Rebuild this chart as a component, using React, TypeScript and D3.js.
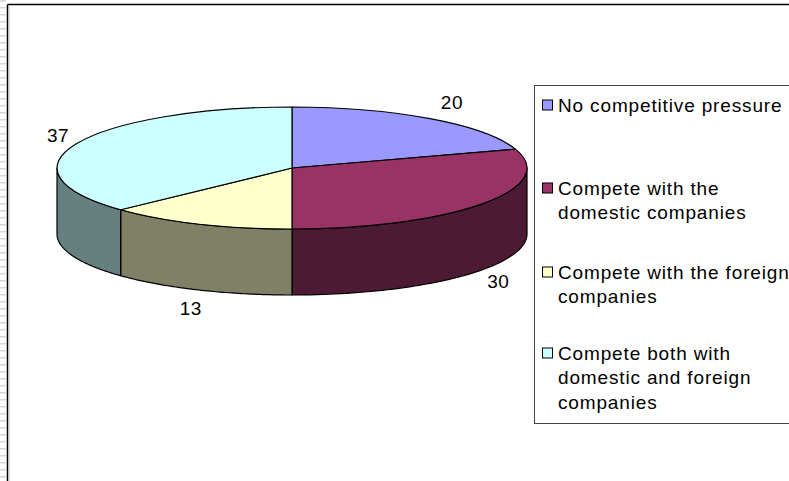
import React from "react";
import * as d3 from "d3";

const categories = [
  "No competitive pressure",
  "Compete with the domestic companies",
  "Compete with the foreign companies",
  "Compete both with domestic and foreign companies",
];
const legendLines = [
  ["No competitive pressure"],
  ["Compete with the", "domestic companies"],
  ["Compete with the foreign", "companies"],
  ["Compete both with", "domestic and foreign", "companies"],
];
const values = [20, 30, 13, 37];
const topColors = ["#9999FF", "#993366", "#FFFFCC", "#CCFFFF"];
const sideColors = ["#4D4D80", "#4D1A33", "#808066", "#668080"];
const legendRowY = [105, 188, 272, 353];

const W = 789;
const H = 481;
const cx = 292;
const cy = 168;
const rx = 235;
const ry = 61;
const depth = 66;
const FONT = "'Liberation Sans', Arial, sans-serif";

export default function App() {
  const pie = d3.pie<number>().sort(null).value((d) => d)(values);
  const arc = d3.arc<any>().innerRadius(0).outerRadius(rx);
  const px = (t: number) => cx + rx * Math.sin(t);
  const py = (t: number) => cy - ry * Math.cos(t);

  const sides = pie
    .map((p, i) => {
      const a = Math.max(p.startAngle, Math.PI / 2);
      const b = Math.min(p.endAngle, (3 * Math.PI) / 2);
      if (b <= a) return null;
      const n = 60;
      const ts = d3.range(n + 1).map((k) => a + ((b - a) * k) / n);
      const path = d3.path();
      ts.forEach((t, k) => (k === 0 ? path.moveTo(px(t), py(t)) : path.lineTo(px(t), py(t))));
      [...ts].reverse().forEach((t) => path.lineTo(px(t), py(t) + depth));
      path.closePath();
      return <path key={"s" + i} d={path.toString()} fill={sideColors[i]} stroke="#000" strokeWidth={1.2} strokeLinejoin="round" />;
    })
    .filter(Boolean);

  const stripes = d3.range(0, H, 7);

  return (
    <svg width={W} height={H} style={{ position: "absolute", left: 0, top: 0, background: "#fff" }}>
      {stripes.map((y) => (
        <rect key={y} x={0} y={y} width={6} height={1.5} fill="#d6d6d6" />
      ))}
      <line x1={7.5} y1={4.5} x2={W} y2={4.5} stroke="#000" strokeWidth={1.5} />
      <line x1={7.5} y1={4.5} x2={7.5} y2={H} stroke="#000" strokeWidth={1.5} />
      <line x1={9} y1={6} x2={9} y2={H} stroke="#bbb" strokeWidth={1} />

      {sides}
      <g transform={`translate(${cx},${cy}) scale(1,${ry / rx})`}>
        {pie.map((p, i) => (
          <path key={"t" + i} d={arc(p) as string} fill={topColors[i]} stroke="#000" strokeWidth={1.2} vectorEffect="non-scaling-stroke" strokeLinejoin="round" />
        ))}
      </g>

      {pie.map((p, i) => {
        const m = (p.startAngle + p.endAngle) / 2;
        const d = 20;
        const x = cx + (rx + d) * Math.sin(m) + (i === 0 ? 10 : 0);
        const y = cy - (ry + d) * Math.cos(m) + (Math.cos(m) < 0 ? depth : 0);
        return (
          <text key={"l" + i} x={x} y={y} textAnchor="middle" dominantBaseline="central" fontFamily={FONT} fontSize={19} letterSpacing={0.5} fill="#000">
            {values[i]}
          </text>
        );
      })}

      <rect x={534.5} y={85.5} width={W} height={338} fill="#fff" stroke="#444" strokeWidth={1} />
      {categories.map((c, i) => (
        <g key={c}>
          <rect x={542.5} y={legendRowY[i] - 5} width={10} height={10} fill={topColors[i]} stroke="#000" strokeWidth={1} />
          {legendLines[i].map((ln, j) => (
            <text key={j} x={558} y={legendRowY[i] + j * 24.8} dominantBaseline="central" fontFamily={FONT} fontSize={19} letterSpacing={0.85} fill="#000">
              {ln}
            </text>
          ))}
        </g>
      ))}
    </svg>
  );
}
